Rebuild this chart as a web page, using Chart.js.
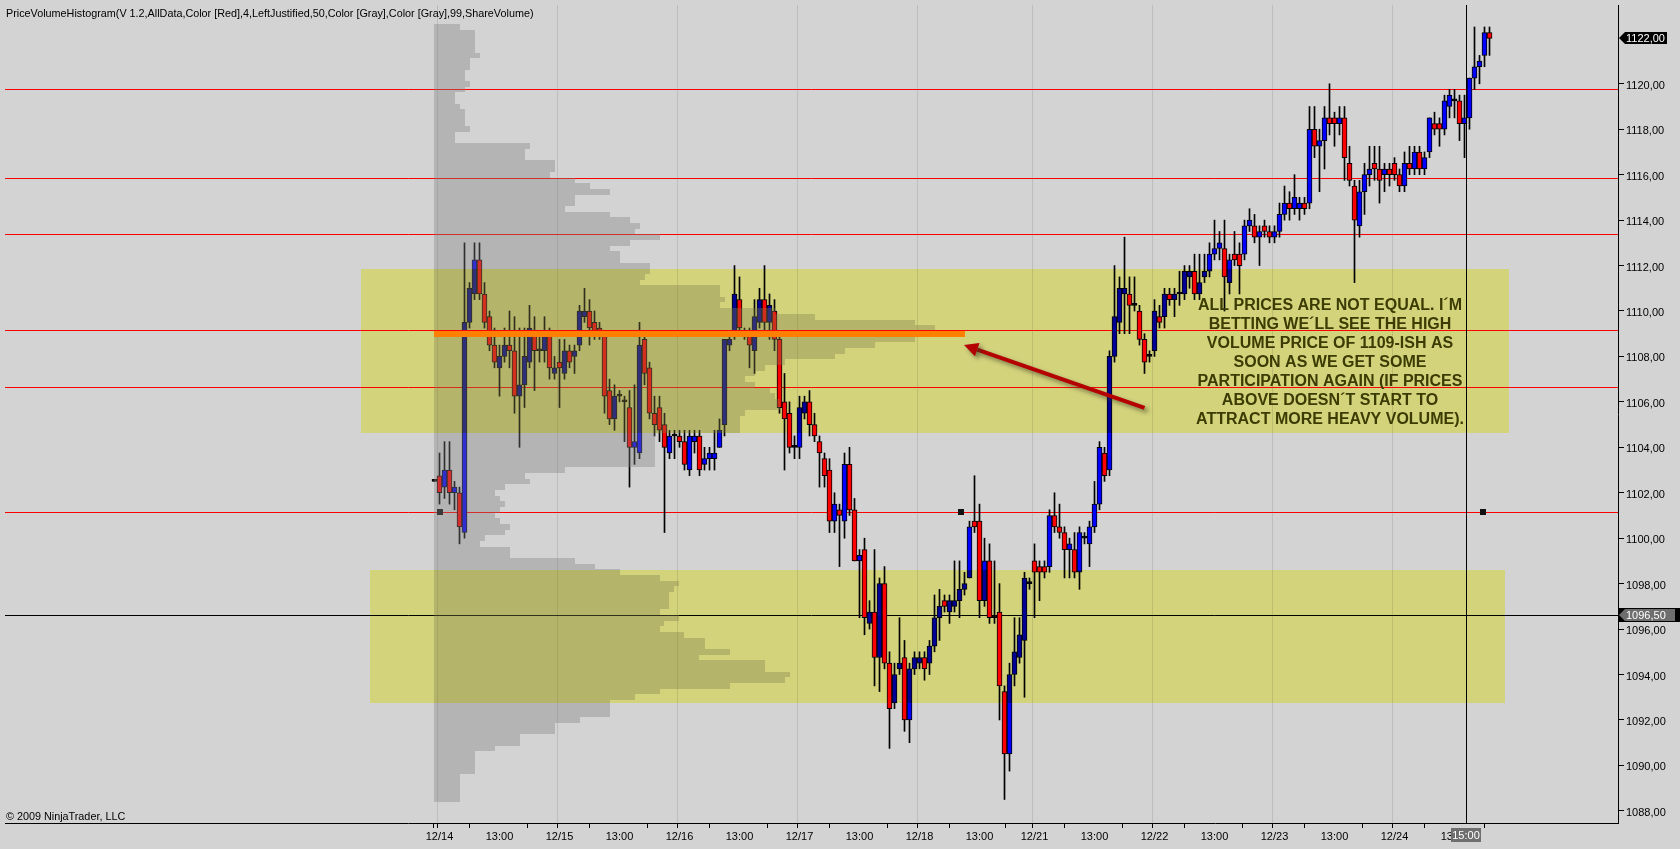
<!DOCTYPE html>
<html><head><meta charset="utf-8">
<script src="https://cdn.jsdelivr.net/npm/chart.js@4.4.1/dist/chart.umd.min.js"></script>
<style>
html,body{margin:0;padding:0;background:#d3d3d3;overflow:hidden;}
#wrap{width:1680px;height:849px;position:relative;}
</style></head><body>
<div id="wrap"><canvas id="c" width="1680" height="849"></canvas></div>
<script>
// ---------------- DATA ----------------
const opens = [1102.5,1102.75,1102.25,1103.0,1102.0,1102.0,1100.25,1109.5,1110.75,1112.25,
1110.75,1109.75,1108.5,1107.5,1108.0,1108.5,1108.25,1106.25,1106.75,1107.75,
1109.0,1108.25,1108.25,1109.0,1107.25,1107.75,1107.25,1108.25,1108.0,1108.5,
1109.75,1110.0,1109.5,1109.25,1109.0,1106.5,1105.25,1106.25,1106.0,1105.75,
1104.0,1103.75,1108.75,1107.5,1105.5,1105.75,1105.0,1103.75,1104.5,1104.5,
1104.25,1103.0,1104.25,1104.5,1103.25,1103.5,1103.5,1104.0,1105.0,1108.5,
1109.0,1110.5,1109.0,1109.0,1108.25,1109.5,1110.5,1109.5,1110.0,1108.75,
1106.0,1105.5,1104.0,1104.0,1105.5,1106.0,1105.0,1104.25,1103.5,1103.0,
1100.75,1101.25,1100.75,1103.25,1101.25,1099.0,1099.5,1096.25,1096.75,1094.75,
1098.0,1094.5,1092.75,1094.25,1094.75,1092.0,1094.25,1094.5,1094.75,1094.5,
1095.25,1096.5,1097.25,1096.75,1097.0,1097.25,1097.75,1098.25,1100.75,1100.75,
1097.25,1099.0,1096.5,1096.75,1093.25,1090.5,1094.0,1094.75,1095.5,1098.0,
1099.0,1098.75,1098.75,1098.75,1101.0,1100.5,1100.25,1099.5,1099.5,1098.5,
1100.0,1099.75,1100.5,1101.5,1103.75,1103.0,1108.0,1109.5,1110.75,1110.75,
1110.25,1110.0,1108.75,1108.0,1108.25,1109.75,1109.75,1110.75,1110.5,1110.75,
1110.75,1111.5,1111.75,1110.75,1111.5,1111.75,1112.5,1112.75,1112.75,1111.25,
1112.5,1112.5,1112.5,1113.75,1113.75,1113.25,1113.75,1113.5,1113.25,1113.5,
1114.25,1114.75,1114.5,1114.5,1114.75,1114.75,1118.0,1117.25,1117.5,1118.5,
1118.5,1118.25,1118.5,1116.5,1115.5,1113.75,1115.25,1116.0,1116.5,1116.25,
1116.0,1116.25,1116.5,1116.0,1115.5,1116.5,1116.25,1117.0,1116.25,1117.0,
1118.25,1118.25,1118.0,1119.0,1119.25,1119.25,1118.25,1118.5,1120.25,1120.75,
1121.25,1122.25];
const highs = [1102.5,1103.75,1104.25,1104.25,1102.5,1102.25,1113.0,1111.25,1113.0,1113.0,
1111.25,1110.0,1109.25,1108.5,1109.25,1110.0,1109.75,1109.25,1109.25,1110.25,
1109.75,1109.0,1109.75,1109.25,1108.0,1108.75,1108.75,1108.5,1108.5,1110.25,
1111.0,1110.5,1110.0,1109.5,1109.0,1107.0,1106.75,1106.5,1106.25,1106.5,
1106.75,1109.5,1109.0,1107.75,1106.25,1106.25,1105.5,1104.75,1104.75,1104.75,
1104.75,1104.75,1104.75,1104.75,1104.0,1104.0,1104.75,1105.25,1108.75,1109.0,
1112.0,1111.5,1109.25,1109.25,1110.5,1111.0,1112.0,1110.75,1110.5,1109.0,
1107.25,1106.0,1104.5,1106.25,1106.25,1106.5,1105.5,1104.5,1103.75,1103.5,
1102.0,1101.5,1103.75,1104.0,1101.75,1099.5,1100.0,1097.25,1099.5,1098.25,
1098.75,1095.0,1094.5,1096.5,1095.5,1094.5,1095.0,1095.0,1095.0,1095.5,
1097.5,1097.75,1097.5,1097.5,1099.0,1099.0,1098.5,1100.75,1102.75,1101.5,
1100.0,1099.75,1099.0,1098.0,1093.5,1094.5,1096.5,1096.5,1098.5,1098.25,
1099.75,1099.0,1099.0,1101.25,1102.0,1101.5,1100.5,1100.0,1100.25,1100.5,
1100.25,1100.75,1102.5,1104.25,1104.0,1108.25,1112.0,1111.5,1113.25,1111.5,
1111.5,1110.25,1109.0,1108.25,1110.5,1110.25,1111.0,1111.0,1111.0,1111.75,
1112.0,1112.0,1112.5,1112.5,1112.5,1113.0,1114.0,1113.5,1114.0,1112.5,
1113.5,1113.0,1114.0,1114.5,1114.25,1113.75,1114.0,1113.75,1113.75,1114.75,
1115.5,1115.25,1116.0,1115.0,1115.0,1119.0,1119.0,1118.0,1119.0,1120.0,
1118.75,1119.0,1119.0,1117.25,1115.75,1115.75,1116.5,1117.25,1117.25,1117.25,
1116.5,1116.5,1116.75,1116.25,1117.0,1117.25,1117.25,1117.25,1117.0,1118.5,
1118.75,1118.5,1119.5,1119.75,1119.75,1119.5,1119.5,1120.25,1122.5,1121.25,
1122.5,1122.5];
const lows = [1102.5,1101.5,1101.75,1101.5,1101.25,1099.75,1100.0,1109.25,1110.5,1110.5,
1109.25,1108.25,1107.5,1106.25,1107.75,1107.5,1105.5,1104.0,1105.75,1107.5,
1106.5,1107.75,1107.75,1107.0,1107.0,1105.75,1107.0,1107.5,1107.25,1108.25,
1109.5,1108.5,1108.75,1108.75,1105.5,1105.0,1104.75,1106.0,1104.25,1102.25,
1103.25,1103.5,1106.75,1105.25,1104.5,1104.25,1100.25,1103.5,1103.5,1104.0,
1103.0,1102.75,1103.75,1102.75,1103.0,1103.0,1103.0,1104.0,1104.5,1108.25,
1108.75,1109.0,1108.75,1107.5,1107.25,1109.25,1109.0,1108.75,1108.25,1105.5,
1103.0,1103.75,1103.5,1103.5,1105.25,1104.5,1104.25,1102.25,1102.25,1100.25,
1100.25,1098.75,1100.0,1101.0,1099.0,1096.5,1095.75,1096.0,1093.5,1093.25,
1094.25,1090.75,1092.5,1094.0,1091.5,1091.0,1094.0,1094.25,1093.75,1094.0,
1095.0,1095.5,1096.75,1096.25,1096.75,1096.5,1097.5,1098.25,1100.25,1096.5,
1097.0,1096.25,1096.25,1092.0,1088.5,1089.75,1093.5,1094.5,1093.0,1097.75,
1096.5,1097.25,1098.25,1098.5,1100.25,1100.0,1098.25,1098.25,1098.25,1097.75,
1099.75,1098.75,1100.25,1101.25,1102.5,1102.75,1107.75,1109.0,1109.0,1109.0,
1110.0,1108.5,1107.25,1107.75,1108.0,1109.25,1109.25,1110.25,1109.75,1110.25,
1110.5,1111.0,1110.5,1110.5,1111.25,1111.5,1112.25,1112.25,1110.0,1110.75,
1112.0,1110.75,1112.25,1113.5,1113.0,1112.0,1113.25,1113.0,1113.0,1113.25,
1114.0,1114.0,1114.25,1114.0,1114.25,1114.5,1116.75,1115.25,1116.25,1117.75,
1117.25,1117.75,1115.75,1115.5,1111.25,1113.25,1114.25,1115.5,1115.75,1114.75,
1115.25,1115.5,1115.75,1115.25,1115.25,1116.0,1116.0,1116.0,1116.0,1116.75,
1117.75,1117.25,1117.75,1118.5,1118.5,1117.5,1116.75,1118.0,1119.75,1120.0,
1120.75,1121.25];
const closes = [1102.5,1102.0,1103.0,1102.0,1102.25,1100.5,1109.5,1111.0,1112.25,1110.75,
1109.5,1108.5,1107.75,1108.0,1108.5,1108.25,1106.25,1106.75,1108.0,1109.25,
1108.25,1108.25,1109.0,1107.5,1107.5,1107.5,1108.25,1107.75,1108.25,1110.0,
1110.0,1109.25,1109.0,1109.0,1106.25,1105.25,1106.25,1106.25,1106.0,1104.0,
1104.25,1108.5,1107.25,1105.5,1105.0,1104.75,1104.0,1104.5,1104.5,1104.25,
1103.25,1104.5,1104.5,1103.0,1103.5,1103.75,1103.75,1104.75,1108.75,1108.75,
1110.75,1109.25,1109.0,1108.5,1109.75,1110.5,1109.5,1110.25,1108.75,1105.75,
1105.25,1104.0,1104.0,1105.75,1106.0,1105.0,1104.5,1103.75,1102.75,1100.75,
1101.5,1101.0,1103.25,1101.25,1099.0,1099.25,1096.5,1096.75,1094.75,1098.0,
1094.5,1092.5,1094.0,1094.5,1092.0,1094.25,1094.75,1094.75,1094.25,1095.25,
1096.5,1097.0,1097.0,1097.25,1097.25,1097.75,1098.0,1100.5,1100.5,1097.25,
1099.0,1096.5,1096.5,1093.5,1090.5,1094.0,1095.0,1095.75,1098.25,1098.0,
1098.5,1098.5,1098.5,1101.0,1100.5,1100.25,1099.5,1099.75,1098.5,1100.25,
1100.0,1100.5,1101.5,1104.0,1102.75,1108.0,1109.75,1111.0,1111.0,1110.25,
1110.25,1108.75,1107.75,1108.0,1110.0,1109.5,1110.75,1110.5,1110.75,1110.75,
1111.75,1111.75,1110.75,1111.25,1111.75,1112.5,1112.75,1113.0,1111.5,1112.25,
1112.25,1112.0,1113.75,1114.0,1113.25,1113.5,1113.5,1113.25,1113.5,1114.25,
1114.75,1114.5,1115.0,1114.75,1114.5,1118.0,1117.25,1117.5,1118.5,1118.25,
1118.25,1118.5,1116.75,1115.75,1114.0,1115.25,1116.0,1116.25,1116.25,1115.75,
1116.25,1116.0,1116.0,1115.5,1116.5,1116.25,1117.0,1116.25,1116.75,1118.5,
1118.0,1118.0,1119.25,1119.5,1119.25,1118.25,1118.5,1120.25,1120.75,1121.0,
1122.25,1122.0];

// x axis: session day starts (bar index) and their labels
const dayLabels = ['12/14','12/15','12/16','12/17','12/18','12/21','12/22','12/23','12/24'];
const dayStartBars = [1,25,49,73,97,120,144,168,192];
const midLabel = '13:00';
const midOffsetBars = 12;
// y axis ticks
const priceTicks = [1088,1090,1092,1094,1096,1098,1100,1102,1104,1106,1108,1110,1112,1114,1116,1118,1120];

// price-volume histogram (one row per 0.25 tick, from top price downward)
const histTopPrice = 1122.5;
const histTick = 0.25;
const histVolume = [25,40,40,40,40,45,35,35,30,30,
35,30,20,20,25,30,30,30,35,20,
20,95,90,90,120,120,115,140,155,175,
140,140,130,175,195,205,200,225,195,175,
185,185,215,215,210,205,285,285,290,285,
340,380,480,500,530,480,440,410,400,350,
330,320,310,320,335,340,345,345,310,305,
305,305,220,220,220,220,220,220,130,90,
95,70,60,65,70,65,60,65,75,70,
50,45,75,75,140,160,185,225,245,240,
235,235,235,225,245,230,225,250,270,270,
295,265,330,330,355,350,295,225,200,175,
175,175,145,120,120,85,85,60,40,40,
40,40,25,25,25,25,25];
const pocPrice = 1109.0;

// drawn objects
const redLinePrices = [1119.76, 1115.84, 1113.38, 1109.15, 1106.64, 1101.14];
const blackLinePrice = 1096.6;
const blackLineLabel = '1096,50';
const zoneTops = [1111.84, 1098.60];
const zoneBottoms = [1104.64, 1092.76];
const zoneStartBars = [-14.7, -13.0];
const zoneEndBars = [214.8, 214.1];
const anchorBars = [1, 105.3, 209.7];
const anchorPrice = 1101.14;
const arrowFrom = {bar: 142.0, price: 1105.74};
const arrowTo = {bar: 105.9, price: 1108.5};
const noteLines = ['ALL PRICES ARE NOT EQUAL. I\u00B4M','BETTING WE\u00B4LL SEE THE HIGH','VOLUME PRICE OF 1109-ISH AS','SOON AS WE GET SOME','PARTICIPATION AGAIN (IF PRICES','ABOVE DOESN\u00B4T START TO','ATTRACT MORE HEAVY VOLUME).'];
const noteAnchor = {bar: 179.1, price: 1110.25};
const cursorBar = 206.3;
const cursorLabel = '15:00';
const titleText = 'PriceVolumeHistogram(V 1.2,AllData,Color [Red],4,LeftJustified,50,Color [Gray],Color [Gray],99,ShareVolume)';
const copyText = '\u00A9 2009 NinjaTrader, LLC';

// ---------------- BUILD ----------------
const idx = opens.map((_, i) => i);
const wickData = idx.map(i => ({x: i, y: [lows[i], highs[i]]}));
const bodyData = idx.map(i => ({x: i, y: [opens[i], closes[i]]}));
const bodyColors = idx.map(i => closes[i] > opens[i] ? '#0000ff' : (closes[i] < opens[i] ? '#ff0000' : '#000000'));
const FONT = '"Liberation Sans", Arial, sans-serif';
const histMaxBars = 106;

function fmtPrice(v){ return v.toFixed(2).replace('.', ','); }

const bgPlugin = {
  id: 'bg',
  beforeDraw(chart){
    const c = chart.ctx; c.save(); c.fillStyle = '#d3d3d3'; c.fillRect(0,0,chart.width,chart.height); c.restore();
  }
};

const underPlugin = {
  id: 'under',
  beforeDatasetsDraw(chart){
    const c = chart.ctx, ys = chart.scales.y, a = chart.chartArea;
    c.save();
    c.lineWidth = 1;
    c.strokeStyle = '#ff0000';
    redLinePrices.forEach(p => {
      const y = Math.floor(ys.getPixelForValue(p)) + 0.5;
      c.beginPath(); c.moveTo(a.left, y); c.lineTo(a.right, y); c.stroke();
    });
    c.strokeStyle = '#000000';
    const yb = Math.floor(ys.getPixelForValue(blackLinePrice)) + 0.5;
    c.beginPath(); c.moveTo(a.left, yb); c.lineTo(a.right, yb); c.stroke();
    c.restore();
  }
};

const overPlugin = {
  id: 'over',
  afterDatasetsDraw(chart){
    const c = chart.ctx, xs = chart.scales.x, ys = chart.scales.y, a = chart.chartArea;
    c.save();
    c.beginPath(); c.rect(a.left, a.top, a.right - a.left, a.bottom - a.top); c.clip();
    // anchor squares
    c.fillStyle = '#111';
    anchorBars.forEach(b => {
      const x = Math.round(xs.getPixelForValue(b)), y = Math.round(ys.getPixelForValue(anchorPrice));
      c.fillRect(x - 3, y - 3, 6, 6);
    });
    // histogram (single staircase path, translucent)
    const maxV = Math.max(...histVolume);
    const left = Math.floor(xs.getPixelForValue(0));
    c.beginPath();
    let lastBottom = null;
    histVolume.forEach((v, j) => {
      const p = histTopPrice - histTick * j;
      const top = Math.round(ys.getPixelForValue(p + histTick / 2));
      const bot = Math.round(ys.getPixelForValue(p - histTick / 2));
      const right = Math.round(xs.getPixelForValue(v / maxV * histMaxBars));
      if (j === 0) c.moveTo(left, top);
      c.lineTo(right, top); c.lineTo(right, bot);
      lastBottom = bot;
    });
    c.lineTo(left, lastBottom); c.closePath();
    c.fillStyle = 'rgba(128,128,128,0.373)';
    c.fill();
    // POC row
    const pj = Math.round((histTopPrice - pocPrice) / histTick);
    const pt = Math.round(ys.getPixelForValue(pocPrice + histTick / 2));
    const pb = Math.round(ys.getPixelForValue(pocPrice - histTick / 2));
    const pr = Math.round(xs.getPixelForValue(histVolume[pj] / maxV * histMaxBars));
    c.fillStyle = '#ff8000';
    c.fillRect(left, pt, pr - left, pb - pt);
    c.fillStyle = '#ff0000';
    const yl = Math.floor(ys.getPixelForValue(redLinePrices[3]));
    c.fillRect(left, yl, pr - left, 1);
    // arrow with shadow
    const x1 = xs.getPixelForValue(arrowFrom.bar), y1 = ys.getPixelForValue(arrowFrom.price);
    const x2 = xs.getPixelForValue(arrowTo.bar), y2 = ys.getPixelForValue(arrowTo.price);
    const ang = Math.atan2(y2 - y1, x2 - x1);
    const drawArrow = (col) => {
      c.strokeStyle = col; c.fillStyle = col; c.lineWidth = 4; c.lineCap = 'butt';
      const hx = x2 - 14 * Math.cos(ang), hy = y2 - 14 * Math.sin(ang);
      c.beginPath(); c.moveTo(x1, y1); c.lineTo(hx, hy); c.stroke();
      c.beginPath();
      c.moveTo(x2, y2);
      c.lineTo(hx + 7 * Math.sin(ang), hy - 7 * Math.cos(ang));
      c.lineTo(hx - 7 * Math.sin(ang), hy + 7 * Math.cos(ang));
      c.closePath(); c.fill();
    };
    c.save();
    c.shadowColor = 'rgba(60,60,60,0.6)'; c.shadowBlur = 4; c.shadowOffsetX = 3; c.shadowOffsetY = 3;
    drawArrow('#b40000');
    c.restore();
    // yellow zones (multiply)
    c.globalCompositeOperation = 'multiply';
    c.fillStyle = 'rgb(255,255,150)';
    zoneTops.forEach((t, i) => {
      const xa = Math.round(xs.getPixelForValue(zoneStartBars[i])), xb = Math.round(xs.getPixelForValue(zoneEndBars[i]));
      const ya = Math.round(ys.getPixelForValue(t)), yb = Math.round(ys.getPixelForValue(zoneBottoms[i]));
      c.fillRect(xa, ya, xb - xa, yb - ya);
    });
    c.globalCompositeOperation = 'source-over';
    // note text
    c.fillStyle = '#3c3c00';
    c.font = 'bold 16px ' + FONT;
    c.textAlign = 'center'; c.textBaseline = 'middle';
    const nx = xs.getPixelForValue(noteAnchor.bar), ny = ys.getPixelForValue(noteAnchor.price);
    noteLines.forEach((s, i) => c.fillText(s, nx, ny + i * 19));
    // cursor line
    c.fillStyle = '#000';
    const cx = Math.floor(xs.getPixelForValue(cursorBar));
    c.fillRect(cx, a.top, 1, a.bottom - a.top);
    c.restore();
  },
  afterDraw(chart){
    const c = chart.ctx, xs = chart.scales.x, ys = chart.scales.y, a = chart.chartArea;
    c.save();
    c.font = '10.8px ' + FONT;
    c.fillStyle = '#000'; c.textAlign = 'left'; c.textBaseline = 'alphabetic';
    c.fillText(titleText, 6, 17);
    c.fillText(copyText, 6, 820);
    c.font = '11px ' + FONT;
    const drawMarker = (price, text, fill, w) => {
      const y = Math.round(ys.getPixelForValue(price));
      const x0 = a.right + 1;
      c.fillStyle = fill;
      c.beginPath();
      c.moveTo(x0, y); c.lineTo(x0 + 6, y - 6); c.lineTo(x0 + w, y - 6); c.lineTo(x0 + w, y + 6); c.lineTo(x0 + 6, y + 6); c.closePath();
      c.fill();
      c.fillStyle = '#ffffff'; c.textAlign = 'left'; c.textBaseline = 'middle';
      c.fillText(text, x0 + 7, y + 1);
    };
    drawMarker(closes[closes.length - 1], fmtPrice(closes[closes.length - 1]), '#000000', 48);
    c.fillStyle = '#000'; c.fillRect(a.right + 1, Math.round(ys.getPixelForValue(blackLinePrice)) - 7, chart.width - a.right, 14);
    drawMarker(blackLinePrice, blackLineLabel, '#6e6e6e', 56);
    const tx = Math.round(xs.getPixelForValue(cursorBar));
    c.fillStyle = '#6e6e6e';
    c.fillRect(tx - 15, a.bottom + 5, 30, 14);
    c.fillStyle = '#ffffff'; c.textAlign = 'center'; c.textBaseline = 'middle';
    c.fillText(cursorLabel, tx, a.bottom + 12.5);
    c.restore();
  }
};

const tickBars = [];
dayStartBars.forEach(b => { tickBars.push(b - 0.8); tickBars.push(b); tickBars.push(b + midOffsetBars); });
tickBars.sort((p, q) => p - q);
const tickIsDay = tickBars.map(v => dayStartBars.indexOf(v) >= 0);

new Chart(document.getElementById('c'), {
  type: 'bar',
  data: {
    datasets: [
      {label: 'body', data: bodyData, backgroundColor: bodyColors, borderColor: '#000000', borderWidth: 1, borderSkipped: false, barThickness: 5, grouped: false, minBarLength: 2, order: 1},
      {label: 'wick', data: wickData, backgroundColor: '#000000', borderWidth: 0, barThickness: 1, grouped: false, minBarLength: 1, order: 2}
    ]
  },
  options: {
    responsive: false, animation: false, devicePixelRatio: 1,
    layout: {padding: {left: 5, top: 5, right: 0, bottom: 0}},
    plugins: {legend: {display: false}, tooltip: {enabled: false}, title: {display: false}},
    scales: {
      x: {
        type: 'linear', min: -85.9, max: 236.7, offset: false,
        afterBuildTicks: s => { s.ticks = tickBars.map(v => ({value: v})); },
        afterFit: s => { s.height = 26; s.paddingLeft = 0; s.paddingRight = 0; s.paddingTop = 0; s.paddingBottom = 0; },
        ticks: {
          autoSkip: false, maxRotation: 0, minRotation: 0, padding: 2, color: '#000',
          font: {family: FONT, size: 11},
          callback: v => { const i = dayStartBars.indexOf(v); if (i >= 0) return dayLabels[i]; if (dayStartBars.indexOf(v - midOffsetBars) >= 0) return midLabel; return ''; }
        },
        grid: {
          color: ctx => (tickIsDay[ctx.index] ? '#bdbdbd' : 'rgba(0,0,0,0)'),
          tickColor: '#000', tickLength: 5, drawTicks: true, lineWidth: 1
        },
        border: {display: true, color: '#000', width: 1}
      },
      y: {
        type: 'linear', position: 'right', min: 1087.465, max: 1123.468,
        afterBuildTicks: s => { s.ticks = priceTicks.map(v => ({value: v})); },
        afterFit: s => { s.width = 62; s.paddingTop = 0; s.paddingBottom = 0; s.paddingLeft = 0; s.paddingRight = 0; },
        ticks: {padding: 2, color: '#000', font: {family: FONT, size: 11}, labelOffset: 2, callback: v => fmtPrice(v)},
        grid: {drawOnChartArea: false, drawTicks: true, tickLength: 6, tickColor: '#000'},
        border: {display: true, color: '#000', width: 1}
      }
    }
  },
  plugins: [bgPlugin, underPlugin, overPlugin]
});
</script>
</body></html>
